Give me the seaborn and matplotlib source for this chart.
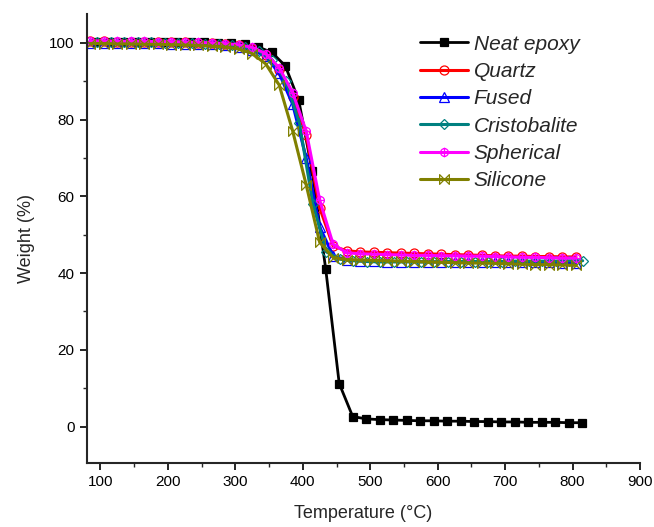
import numpy as np
import matplotlib
matplotlib.use("Agg")
import matplotlib.pyplot as plt
from matplotlib.path import Path
import seaborn as sns

sns.set_style("ticks")
plt.rcParams['font.family'] = ['Liberation Sans', 'DejaVu Sans']

# ---- data ----
T_neat = list(range(94, 815, 20))
W_neat = [100.1, 100.1, 100.1, 100.1, 100.1, 100.1, 100.1, 100.1, 100.1, 100.0,
          99.9, 99.6, 98.9, 97.5, 94.0, 85.0, 66.5, 41.0, 11.2, 2.6,
          2.0, 1.8, 1.7, 1.6, 1.5, 1.5, 1.4, 1.4, 1.3, 1.3,
          1.2, 1.2, 1.1, 1.1, 1.1, 1.0, 1.0]

T_comp = list(range(85, 806, 20))
T_cris = list(range(95, 816, 20))

W_quartz = [100.4, 100.4, 100.3, 100.3, 100.3, 100.2, 100.2, 100.1, 100.0, 99.9,
            99.7, 99.3, 98.5, 96.8, 93.0, 86.0, 76.0, 57.0, 47.0, 45.8,
            45.5, 45.4, 45.3, 45.2, 45.1, 45.0, 44.9, 44.8, 44.7, 44.6,
            44.5, 44.4, 44.4, 44.3, 44.3, 44.2, 44.2]
W_fused = [100.0, 100.0, 100.0, 99.9, 99.9, 99.9, 99.8, 99.8, 99.7, 99.6,
           99.4, 99.0, 98.2, 96.5, 92.0, 84.0, 70.0, 52.0, 44.5, 43.4,
           43.2, 43.1, 43.0, 43.0, 43.0, 42.9, 42.9, 42.9, 42.9, 42.8,
           42.8, 42.8, 42.8, 42.8, 42.8, 42.7, 42.7]
W_cris = [100.2, 100.2, 100.1, 100.1, 100.1, 100.0, 100.0, 99.9, 99.8, 99.6,
          99.3, 98.8, 97.8, 95.5, 90.0, 79.0, 58.0, 45.5, 43.6, 43.2,
          43.0, 42.9, 42.9, 42.9, 42.9, 42.9, 43.0, 43.0, 43.0, 43.0,
          43.0, 43.1, 43.1, 43.1, 43.1, 43.2, 43.2]
W_spher = [100.5, 100.5, 100.4, 100.4, 100.4, 100.3, 100.3, 100.2, 100.1, 100.0,
           99.8, 99.5, 98.8, 97.2, 93.5, 87.0, 77.0, 59.0, 47.5, 45.3,
           45.0, 44.9, 44.8, 44.7, 44.6, 44.6, 44.5, 44.5, 44.4, 44.4,
           44.3, 44.2, 44.1, 44.1, 44.0, 43.9, 43.9]
W_silic = [99.8, 99.8, 99.7, 99.7, 99.6, 99.6, 99.5, 99.4, 99.3, 99.1,
           98.9, 98.4, 97.2, 94.5, 89.0, 77.0, 63.0, 48.0, 44.0, 43.5,
           43.4, 43.3, 43.2, 43.1, 43.0, 42.9, 42.8, 42.7, 42.6, 42.6,
           42.5, 42.4, 42.3, 42.2, 42.2, 42.1, 42.0]

labels = ["Neat epoxy", "Quartz", "Fused", "Cristobalite", "Spherical", "Silicone"]
colors = ["#000000", "#FF0000", "#0000FF", "#008080", "#FF00FF", "#808000"]

# custom markers
circ = Path.unit_circle()
plus = Path([(-1, 0), (1, 0), (0, -1.25), (0, 1.25)],
            [Path.MOVETO, Path.LINETO, Path.MOVETO, Path.LINETO])
oplus = Path.make_compound_path(circ, plus)
bowtie = Path([(-1, -1), (1, 1), (1, -1), (-1, 1), (-1, -1)],
              [Path.MOVETO, Path.LINETO, Path.LINETO, Path.LINETO, Path.CLOSEPOLY])

series = [
    (T_neat, W_neat, "s", 5.5, colors[0], True, 2.0),
    (T_comp, W_quartz, "o", 6.5, colors[1], False, 2.2),
    (T_comp, W_fused, "^", 6.5, colors[2], False, 2.2),
    (T_cris, W_cris, "D", 5.5, colors[3], False, 2.2),
    (T_comp, W_spher, oplus, 7, colors[4], False, 2.2),
    (T_comp, W_silic, bowtie, 7, colors[5], False, 2.2),
]

fig = plt.figure(figsize=(6.54, 5.27), dpi=100)
ax = fig.add_axes([87/654, 1-463/527, (640-87)/654, (463-14)/527])

for (t, w, m, ms, c, filled, lw), lab in zip(series, labels):
    sns.lineplot(x=t, y=w, ax=ax, color=c, lw=lw, marker=m, markersize=ms,
                 markerfacecolor=(c if filled else "none"),
                 markeredgecolor=c, markeredgewidth=0.9, label=lab, sort=False)

ax.set_xlim(80, 900)
ax.set_ylim(-9.5, 107.5)
ax.set_xticks(range(100, 901, 100))
ax.set_xticks(range(150, 900, 100), minor=True)
ax.set_yticks(range(0, 101, 20))
ax.set_yticks(range(10, 100, 20), minor=True)

for s in ["top", "right"]:
    ax.spines[s].set_visible(False)
for s in ["left", "bottom"]:
    ax.spines[s].set_linewidth(1.5)
ax.tick_params(which="major", direction="out", length=5, width=1.2, labelsize=11,
               colors="black", pad=4)
ax.tick_params(which="minor", direction="out", length=3, width=1.0)

ax.set_xlabel("Temperature (°C)", fontsize=13, labelpad=11)
ax.set_ylabel("Weight (%)", fontsize=13, labelpad=10)

leg = ax.legend(loc="upper left", bbox_to_anchor=(405/654, 1-20/527),
                bbox_transform=fig.transFigure, frameon=False,
                prop={"style": "italic", "size": 15}, handlelength=2.3,
                handletextpad=0.3, labelspacing=0.4, borderpad=0.2)

fig.savefig("out.png", dpi=100)
